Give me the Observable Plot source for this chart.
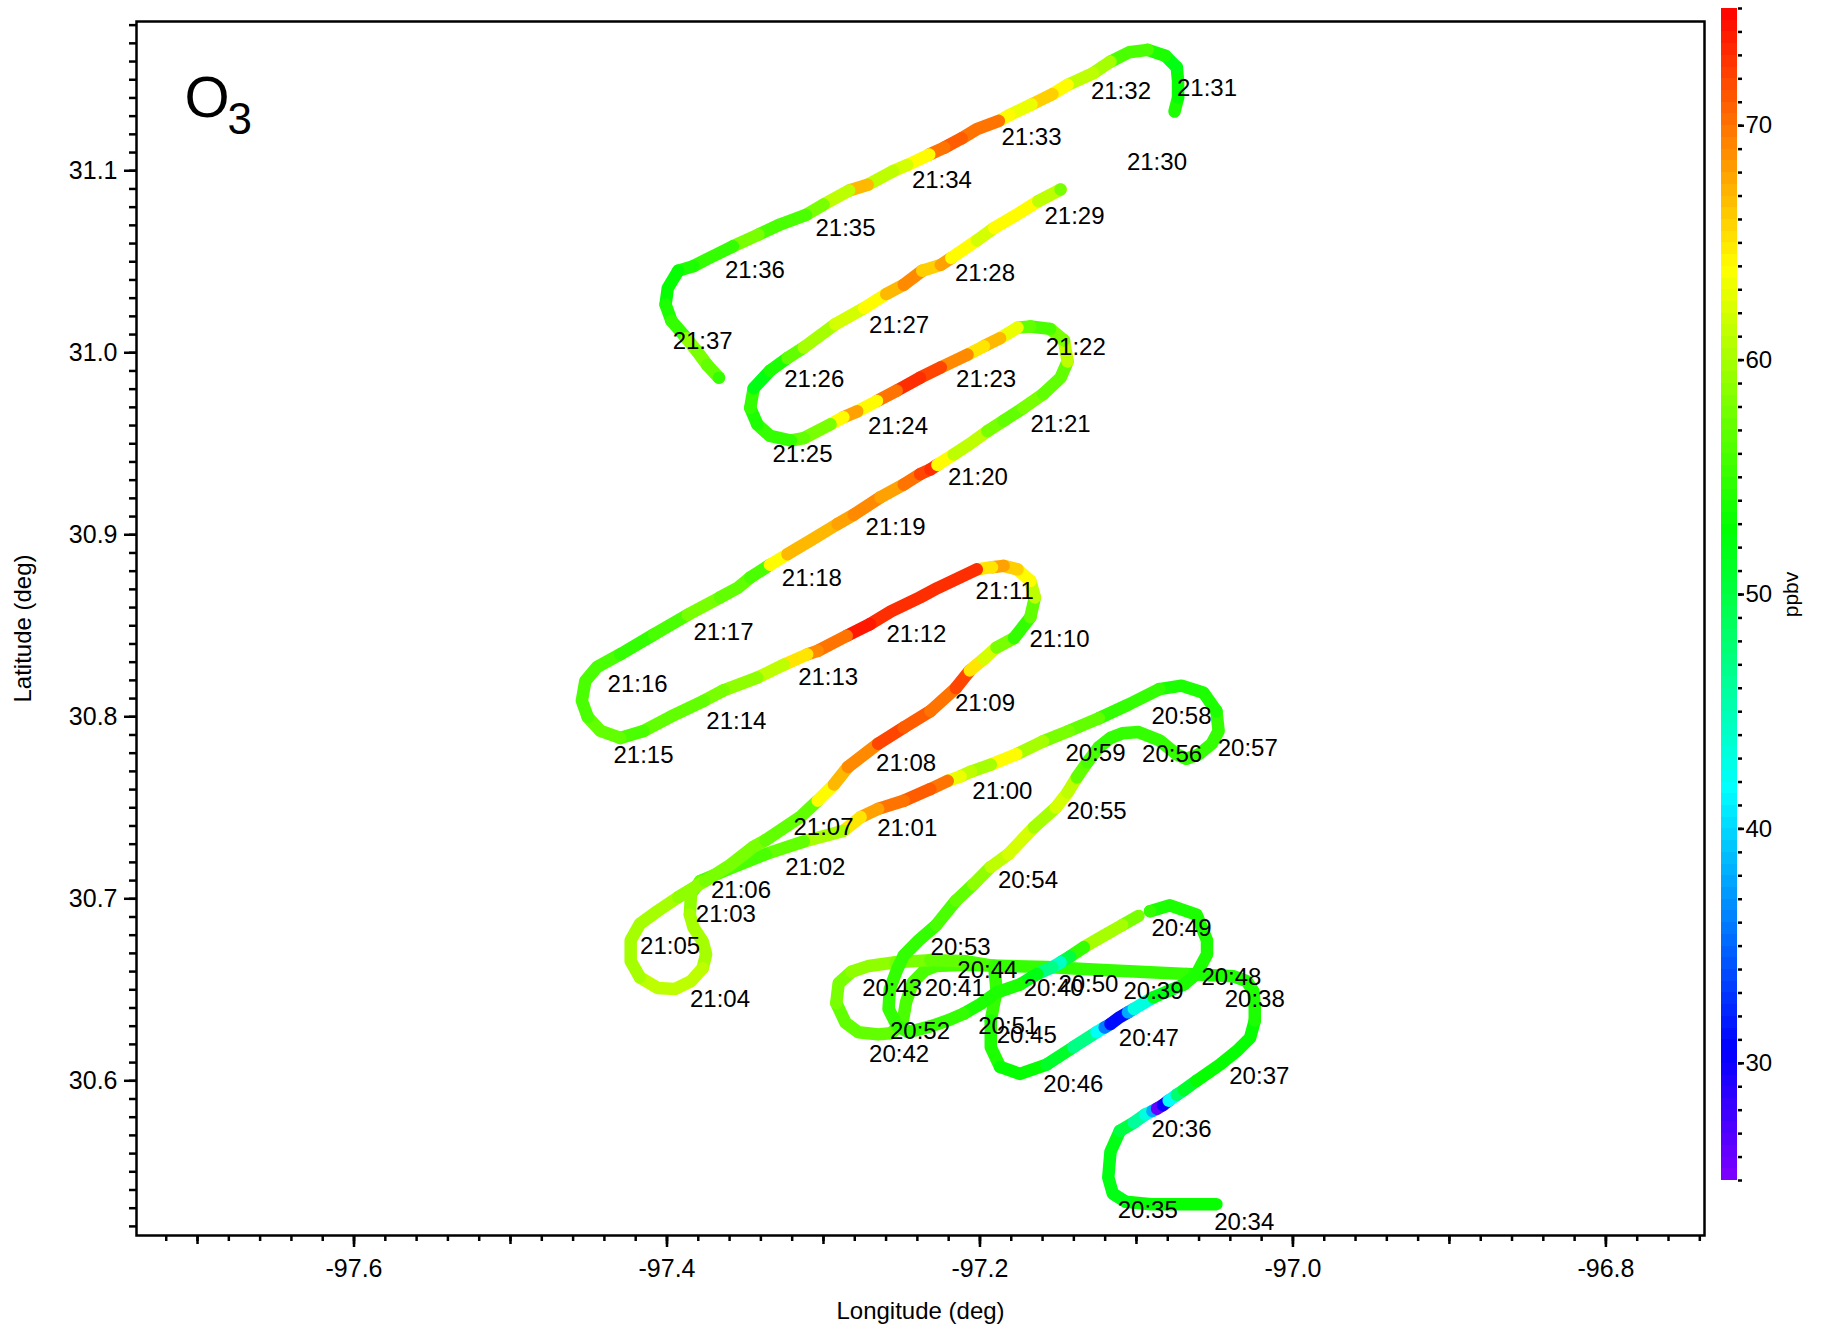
<!DOCTYPE html>
<html>
<head>
<meta charset="utf-8">
<script src="https://cdn.jsdelivr.net/npm/d3@7"></script>
<script src="https://cdn.jsdelivr.net/npm/@observablehq/plot@0.6"></script>
<style>
  body { margin: 0; background: #fff; }
  #wrap { position: relative; width: 1823px; height: 1329px; background: #fff; }
  #wrap svg { position: absolute; top: 0; }
</style>
</head>
<body>
<div id="wrap"></div>
<script>
// ---------- Flight track, segment A (20:34 - 20:49) ----------
const segALon = [-97.0489,-97.0682,-97.0906,-97.1069,-97.1151,-97.1180,-97.1166,-97.1106,-97.1017,-97.0943,
  -97.0898,-97.0869,-97.0831,-97.0794,-97.0742,-97.0697,-97.0616,-97.0467,-97.0356,-97.0274,
  -97.0244,-97.0244,-97.0252,-97.0296,-97.0378,
  -97.0682,-97.0980,-97.1277,-97.1574,-97.1827,-97.2094,-97.2280,-97.2354,-97.2428,-97.2472,
  -97.2495,-97.2569,-97.2651,-97.2777,-97.2859,-97.2918,-97.2903,-97.2821,-97.2710,-97.2539,
  -97.2317,-97.2094,-97.1909,-97.1894,-97.1931,-97.1931,-97.1871,-97.1745,-97.1574,-97.1403,
  -97.1255,-97.1203,-97.1166,-97.1106,-97.1054,-97.1017,-97.0891,-97.0697,-97.0616,-97.0549,
  -97.0549,-97.0616,-97.0786,-97.0913];
const segALat = [30.5322,30.5322,30.5322,30.5335,30.5380,30.5469,30.5610,30.5725,30.5770,30.5815,
  30.5834,30.5847,30.5866,30.5891,30.5923,30.5949,30.6000,30.6089,30.6166,30.6236,
  30.6331,30.6402,30.6491,30.6548,30.6574,
  30.6587,30.6599,30.6612,30.6625,30.6631,30.6638,30.6631,30.6606,30.6542,30.6433,
  30.6319,30.6261,30.6255,30.6267,30.6319,30.6427,30.6536,30.6599,30.6631,30.6651,
  30.6663,30.6657,30.6631,30.6497,30.6331,30.6185,30.6076,30.6038,30.6089,30.6185,
  30.6267,30.6293,30.6312,30.6350,30.6376,30.6395,30.6459,30.6529,30.6587,30.6695,
  30.6772,30.6913,30.6964,30.6932];
const segAO3 = [53,53,53,52,52,52,52,50,46,43,38,26,30,42,48,51,53,53,53,53,54,54,54,54,54,
  55,55,55,55,55,56,56,56,56,56, 56,57,57,57,57,58,58,59,59,58,
  57,56,55,55,54,54,53,53,51,47, 42,36,31,31,38,43,52,54,54,54, 54,54,54,55];

// ---------- segment B (20:49 - 21:29) ----------
const segBLon = [-97.0987,-97.1091,-97.1210,-97.1336,-97.1425,-97.1485,-97.1537,-97.1634,-97.1745,-97.1894,
  -97.1998,-97.2102,-97.2206,-97.2317,-97.2458,-97.2532,-97.2584,-97.2576,-97.2532,-97.2487,
  -97.2391,-97.2280,-97.2154,-97.2042,-97.1931,-97.1819,-97.1656,-97.1515,-97.1440,-97.1381,
  -97.1314,-97.1240,-97.1166,-97.1091,-97.0987,-97.0854,-97.0742,-97.0682,-97.0601,-97.0519,
  -97.0475,-97.0489,-97.0571,-97.0712,-97.0854,-97.1047,-97.1240,-97.1433,-97.1597,-97.1768,
  -97.1931,-97.2057,-97.2124,-97.2206,-97.2317,-97.2487,-97.2651,-97.2762,-97.2873,-97.3126,
  -97.3371,-97.3594,-97.3787,-97.3846,-97.3854,-97.3831,-97.3772,-97.3750,-97.3772,-97.3846,
  -97.3950,-97.4061,-97.4173,-97.4232,-97.4232,-97.4173,-97.4061,-97.3928,-97.3757,-97.3594,
  -97.3453,-97.3371,-97.3149,-97.3037,-97.2933,-97.2844,-97.2651,-97.2487,-97.2317,-97.2154,
  -97.2065,-97.1975,-97.1894,-97.1782,-97.1678,-97.1649,-97.1678,-97.1760,-97.1849,-97.1923,
  -97.2020,-97.2272,-97.2383,-97.2569,-97.2703,-97.2851,-97.3037,-97.3104,-97.3253,-97.3423,
  -97.3639,-97.3765,-97.3980,-97.4150,-97.4299,-97.4425,-97.4507,-97.4544,-97.4522,-97.4447,
  -97.4299,-97.4084,-97.3868,-97.3661,-97.3550,-97.3468,-97.3342,-97.3230,-97.3082,-97.2910,
  -97.2807,-97.2636,-97.2487,-97.2383,-97.2317,-97.2272,-97.2168,-97.2065,-97.1953,-97.1849,
  -97.1723,-97.1597,-97.1485,-97.1440,-97.1463,-97.1552,-97.1678,-97.1760,-97.1871,-97.1975,
  -97.2079,-97.2250,-97.2383,-97.2532,-97.2658,-97.2784,-97.2873,-97.2955,-97.3126,-97.3208,
  -97.3342,-97.3423,-97.3468,-97.3446,-97.3342,-97.3230,-97.3126,-97.2925,-97.2740,-97.2599,
  -97.2487,-97.2369,-97.2250,-97.2183,-97.2020,-97.1909,-97.1768,-97.1627,-97.1485];
const segBLat = [30.6906,30.6855,30.6797,30.6734,30.6683,30.6651,30.6625,30.6587,30.6529,30.6485,
  30.6421,30.6370,30.6331,30.6299,30.6267,30.6306,30.6395,30.6504,30.6606,30.6689,
  30.6772,30.6855,30.6989,30.7079,30.7175,30.7245,30.7392,30.7501,30.7584,30.7667,
  30.7750,30.7833,30.7884,30.7909,30.7916,30.7871,30.7794,30.7769,30.7794,30.7852,
  30.7922,30.8031,30.8132,30.8171,30.8152,30.8069,30.7992,30.7922,30.7865,30.7794,
  30.7737,30.7699,30.7673,30.7648,30.7603,30.7539,30.7494,30.7449,30.7373,30.7315,
  30.7245,30.7168,30.7098,30.7028,30.6913,30.6843,30.6766,30.6695,30.6619,30.6548,
  30.6504,30.6510,30.6568,30.6657,30.6772,30.6862,30.6932,30.7009,30.7098,30.7187,
  30.7283,30.7322,30.7449,30.7539,30.7628,30.7724,30.7852,30.7941,30.8031,30.8158,
  30.8254,30.8318,30.8381,30.8432,30.8547,30.8656,30.8746,30.8810,30.8829,30.8822,
  30.8810,30.8707,30.8656,30.8579,30.8509,30.8445,30.8362,30.8343,30.8286,30.8215,
  30.8145,30.8088,30.7999,30.7922,30.7884,30.7922,30.7999,30.8088,30.8196,30.8273,
  30.8343,30.8452,30.8560,30.8656,30.8707,30.8765,30.8835,30.8893,30.8969,30.9059,
  30.9110,30.9206,30.9276,30.9333,30.9359,30.9384,30.9441,30.9499,30.9569,30.9626,
  30.9697,30.9773,30.9863,30.9952,31.0068,31.0131,31.0144,31.0138,31.0080,31.0036,
  30.9990,30.9920,30.9863,30.9792,30.9735,30.9678,30.9646,30.9607,30.9531,30.9518,
  30.9543,30.9607,30.9697,30.9805,30.9901,30.9971,31.0029,31.0157,31.0246,31.0323,
  31.0374,31.0451,31.0483,31.0521,31.0617,31.0686,31.0757,31.0833,31.0897];
const segBO3 = [58,60,60,55,50,44,47,52,54,54, 54,55,55,55,55,55,55,55,55,55,
  55,56,57,59,61,62,60,62,61,57, 56,55,55,55,55,55,55,55,55,55,
  55,54,54,54,55,55,57,58,60,64, 60,61,63,70,71,70,68,65,60,57,
  56,56,57,59,60,60,60,60,61,61, 61,61,60,60,60,60,60,59,58,58,
  58,57,57,64,67,69,72,71,70,72, 65,62,58,55,57,61,64,66,68,65,
  73,73,73,73,74,70,69,65,61,59, 58,57,57,56,57,57,56,56,56,56,
  55,56,58,57,57,56,64,67,67,68, 69,68,70,72,73,64,61,61,58,57,
  58,57,57,61,58,56,57,63,67,65, 69,72,73,70,64,68,64,58,57,55,
  55,54,55,52,54,57,60,62,64,67, 69,66,68,64,62,64,64,61,58];

// ---------- segment C (21:31 - 21:37) ----------
const segCLon = [-97.0757,-97.0734,-97.0734,-97.0742,-97.0816,-97.0928,-97.1047,-97.1166,-97.1277,-97.1440,
  -97.1537,-97.1671,-97.1812,-97.1879,-97.2020,-97.2117,-97.2228,-97.2324,-97.2465,-97.2554,
  -97.2717,-97.2836,-97.3000,-97.3112,-97.3275,-97.3416,-97.3579,-97.3743,-97.3831,-97.3928,
  -97.3995,-97.4009,-97.3972,-97.3876,-97.3809,-97.3743,-97.3668];
const segCLat = [31.1325,31.1402,31.1491,31.1568,31.1632,31.1664,31.1651,31.1600,31.1536,31.1472,
  31.1421,31.1364,31.1306,31.1274,31.1229,31.1178,31.1127,31.1089,31.1031,31.0999,
  31.0923,31.0891,31.0814,31.0757,31.0706,31.0649,31.0585,31.0515,31.0476,31.0451,
  31.0355,31.0265,31.0176,31.0080,31.0010,30.9933,30.9863];
const segCO3 = [54,53,53,52,54,56,56,60,61,64, 66,63,64,70,70,71,70,64,62,61,
  67,61,58,56,56,58,55,55,54,53, 53,54,55,59,58,57,55];

// ---------- time labels ----------
const labelTimes = ["20:34","20:35","20:36","20:37","20:38","20:39","20:40","20:41","20:42","20:43",
  "20:44","20:45","20:46","20:47","20:48","20:49","20:50","20:51","20:52","20:53",
  "20:54","20:55","20:56","20:57","20:58","20:59","21:00","21:01","21:02","21:03",
  "21:04","21:05","21:06","21:07","21:08","21:09","21:10","21:11","21:12","21:13",
  "21:14","21:15","21:16","21:17","21:18","21:19","21:20","21:21","21:22","21:23",
  "21:24","21:25","21:26","21:27","21:28","21:29","21:30","21:31","21:32","21:33",
  "21:34","21:35","21:36","21:37"];
const labelLon = [-97.0311,-97.0928,-97.0712,-97.0215,-97.0244,-97.0891,-97.1529,-97.2161,-97.2517,-97.2561,
  -97.1953,-97.1701,-97.1403,-97.0921,-97.0393,-97.0712,-97.1307,-97.1819,-97.2383,-97.2124,
  -97.1693,-97.1255,-97.0772,-97.0289,-97.0712,-97.1262,-97.1857,-97.2465,-97.3052,-97.3624,
  -97.3661,-97.3980,-97.3527,-97.3000,-97.2472,-97.1968,-97.1492,-97.1842,-97.2406,-97.2970,
  -97.3557,-97.4150,-97.4188,-97.3639,-97.3074,-97.2539,-97.2013,-97.1485,-97.1388,-97.1961,
  -97.2524,-97.3134,-97.3059,-97.2517,-97.1968,-97.1396,-97.0869,-97.0549,-97.1099,-97.1671,
  -97.2243,-97.2859,-97.3438,-97.3772];
const labelLat = [30.5220,30.5291,30.5732,30.6025,30.6446,30.6491,30.6510,30.6510,30.6147,30.6510,
  30.6606,30.6248,30.5981,30.6236,30.6568,30.6836,30.6529,30.6299,30.6274,30.6734,
  30.7104,30.7482,30.7794,30.7826,30.8005,30.7801,30.7590,30.7385,30.7175,30.6913,
  30.6446,30.6740,30.7047,30.7392,30.7743,30.8075,30.8426,30.8688,30.8452,30.8215,
  30.7973,30.7788,30.8177,30.8464,30.8759,30.9040,30.9314,30.9607,31.0029,30.9856,
  30.9595,30.9441,30.9856,31.0151,31.0438,31.0750,31.1044,31.1453,31.1434,31.1184,
  31.0948,31.0686,31.0451,31.0061];

// ---------- ticks ----------
const xTickValues = [-97.6, -97.4, -97.2, -97.0, -96.8];
const yTickValues = [30.6, 30.7, 30.8, 30.9, 31.0, 31.1];
const colorTickValues = [30, 40, 50, 60, 70];

// ---------- build tables ----------
const track = [];
[[segALon, segALat, segAO3], [segBLon, segBLat, segBO3], [segCLon, segCLat, segCO3]]
  .forEach(([lo, la, o], s) => lo.forEach((v, i) => track.push({lon: v, lat: la[i], o3: o[i], seg: s})));
const labels = labelTimes.map((t, i) => ({t, lon: labelLon[i], lat: labelLat[i]}));

const rainbow = (t) => d3.hsl(270 * (1 - t), 1, 0.5).formatHex();
const FONT = "'Liberation Sans', Arial, Helvetica, sans-serif";
const blank = () => "";

const main = Plot.plot({
  width: 1823, height: 1329,
  marginLeft: 136, marginRight: 119, marginTop: 21, marginBottom: 94,
  style: {fontFamily: FONT, fontSize: "22px", color: "black", background: "transparent", overflow: "visible"},
  x: {domain: [-97.739, -96.737]},
  y: {domain: [30.515, 31.182]},
  color: {type: "linear", domain: [25, 75], interpolate: rainbow},
  marks: [
    Plot.axisX({ticks: 50, tickSize: 6, tickFormat: blank, label: null, strokeWidth: 2.5}),
    Plot.axisX({ticks: 10, tickSize: 9, tickFormat: blank, label: null, strokeWidth: 2.5}),
    Plot.axisX({ticks: xTickValues, tickSize: 12, tickPadding: 12, tickFormat: d => d.toFixed(1), label: null, strokeWidth: 2.5, fontSize: 25}),
    Plot.axisY({ticks: 66, tickSize: 7, tickFormat: blank, label: null, strokeWidth: 2.5}),
    Plot.axisY({ticks: yTickValues, tickSize: 12, tickPadding: 7, tickFormat: d => d.toFixed(1), label: null, strokeWidth: 2.5, fontSize: 25}),
    Plot.line(track, {x: "lon", y: "lat", z: "seg", stroke: "o3", strokeWidth: 12.5, strokeLinecap: "round", strokeLinejoin: "round"}),
    Plot.text(labels, {x: "lon", y: "lat", text: "t", fontSize: 24, fill: "black"}),
    Plot.frame({strokeWidth: 2.5, stroke: "black"}),
    Plot.text(["O"], {frameAnchor: "top-left", dx: 48, dy: 77, fontSize: 58, textAnchor: "start", lineAnchor: "middle"}),
    Plot.text(["3"], {frameAnchor: "top-left", dx: 91, dy: 98, fontSize: 44, textAnchor: "start", lineAnchor: "middle"}),
    Plot.text(["Longitude (deg)"], {frameAnchor: "bottom", dy: 76, fontSize: 24, textAnchor: "middle", lineAnchor: "middle"}),
    Plot.text(["Latitude (deg)"], {frameAnchor: "left", dx: -113, rotate: -90, fontSize: 24, textAnchor: "middle", lineAnchor: "middle"})
  ]
});
main.style.left = "0px";

const rampSteps = d3.range(25, 75, 0.5);
const bar = Plot.plot({
  width: 123, height: 1329,
  marginLeft: 21, marginRight: 86, marginTop: 8, marginBottom: 149,
  style: {fontFamily: FONT, fontSize: "22px", color: "black", background: "transparent", overflow: "visible"},
  x: {domain: [0, 1], axis: null},
  y: {domain: [25, 75]},
  color: {type: "linear", domain: [25, 75], interpolate: rainbow},
  marks: [
    Plot.rect(rampSteps, {x1: () => 0, x2: () => 1, y1: d => d, y2: d => d + 0.5, fill: d => d + 0.25, shapeRendering: "crispEdges"}),
    Plot.axisY({anchor: "right", ticks: 50, tickSize: 4, tickFormat: blank, label: null, strokeWidth: 2.5}),
    Plot.axisY({anchor: "right", ticks: colorTickValues, tickSize: 6, tickPadding: 2, tickFormat: d => String(d), label: null, strokeWidth: 2.5, fontSize: 24}),
    Plot.text(["ppbv"], {frameAnchor: "right", dx: 54, rotate: -90, fontSize: 21, textAnchor: "middle", lineAnchor: "middle"})
  ]
});
bar.style.left = "1700px";

const wrap = document.getElementById("wrap");
wrap.appendChild(main);
wrap.appendChild(bar);
</script>
</body>
</html>
